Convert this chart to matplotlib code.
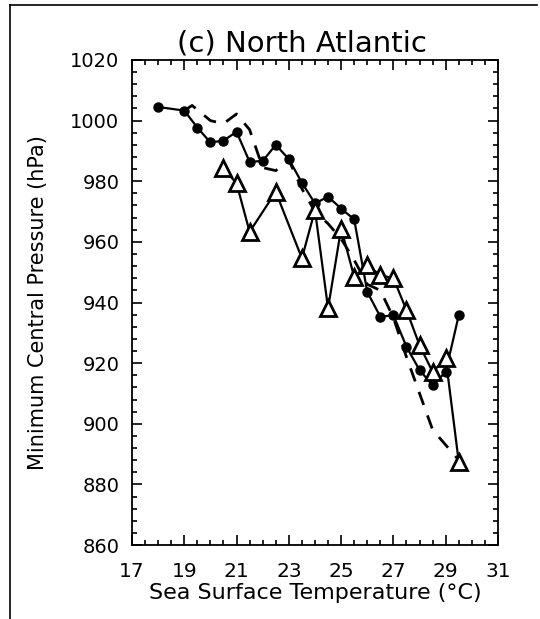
import numpy as np
import matplotlib
matplotlib.use("Agg")
import matplotlib.pyplot as plt
from matplotlib.lines import Line2D
from matplotlib.ticker import MultipleLocator

# SST bins (deg C) and minimum central pressure (hPa)
sst_circle = [18.0, 19.0, 19.5, 20.0, 20.5, 21.0, 21.5, 22.0, 22.5, 23.0, 23.5,
              24.0, 24.5, 25.0, 25.5, 26.0, 26.5, 27.0, 27.5, 28.0, 28.5, 29.0, 29.5]
mcp_circle = [1004.5, 1003.3, 997.7, 992.8, 993.4, 996.3, 986.4, 986.7, 992.0, 987.3, 979.5,
              972.7, 974.9, 971.0, 967.4, 943.5, 935.3, 935.8, 925.4, 917.7, 912.7, 917.1, 935.8]

sst_tri = [20.5, 21.0, 21.5, 22.5, 23.5, 24.0, 24.5, 25.0, 25.5, 26.0, 26.5,
           27.0, 27.5, 28.0, 28.5, 29.0, 29.5]
mcp_tri = [984.3, 979.3, 963.3, 976.5, 954.6, 970.5, 938.1, 964.4, 948.5, 952.3, 949.0,
           948.0, 937.5, 925.9, 917.1, 921.6, 887.4]

sst_dash = [19.0, 19.3, 20.0, 20.5, 21.0, 21.5, 22.0, 22.5, 23.0, 23.5, 24.0, 24.5,
            25.0, 25.5, 26.0, 26.5, 27.0, 27.5, 28.0, 28.5, 29.0, 29.5]
mcp_dash = [1003.3, 1005.0, 1000.0, 999.0, 1002.2, 997.0, 984.5, 983.5, 987.0, 977.5, 970.0, 966.0,
            961.0, 954.0, 946.0, 944.0, 935.0, 922.0, 910.0, 898.0, 893.0, 888.0]

fig = plt.figure(figsize=(5.4, 6.19), dpi=100)
ax = fig.add_axes([0.2444, 0.1195, 0.6778, 0.7836])

ax.plot(sst_dash, mcp_dash, color="black", lw=2.0, ls=(0, (5, 4)))
ax.plot(sst_circle, mcp_circle, color="black", lw=1.6, marker="o", ms=6.5, mfc="black", mec="black")
ax.plot(sst_tri, mcp_tri, color="black", lw=1.6, marker="^", ms=11.5, mfc="white", mec="black", mew=2.0)

ax.set_xlim(17, 31)
ax.set_ylim(860, 1020)
ax.set_xticks(np.arange(17, 32, 2))
ax.set_yticks(np.arange(860, 1021, 20))
ax.xaxis.set_minor_locator(MultipleLocator(0.5))
ax.yaxis.set_minor_locator(MultipleLocator(4))
ax.tick_params(which="both", direction="in", top=True, right=True, width=1.2)
ax.tick_params(which="major", length=7)
ax.tick_params(which="minor", length=3.5)
ax.tick_params(axis="y", labelsize=14, pad=9)
ax.tick_params(axis="x", labelsize=14.5, pad=12)
for s in ax.spines.values():
    s.set_linewidth(1.3)

ax.set_title("(c) North Atlantic", fontsize=21, pad=6, x=0.465)
ax.set_xlabel("Sea Surface Temperature (°C)", fontsize=16, labelpad=2)
ax.set_ylabel("Minimum Central Pressure (hPa)", fontsize=15)
ax.yaxis.set_label_coords(-0.23, 0.5)

# frame lines around the panel
fig.add_artist(Line2D([10 / 540, 537 / 540], [1 - 5 / 619, 1 - 5 / 619],
                      transform=fig.transFigure, color="black", lw=1.2))
fig.add_artist(Line2D([10 / 540, 10 / 540], [1 - 5 / 619, 0],
                      transform=fig.transFigure, color="black", lw=1.2))

fig.savefig("out.png", dpi=100)
